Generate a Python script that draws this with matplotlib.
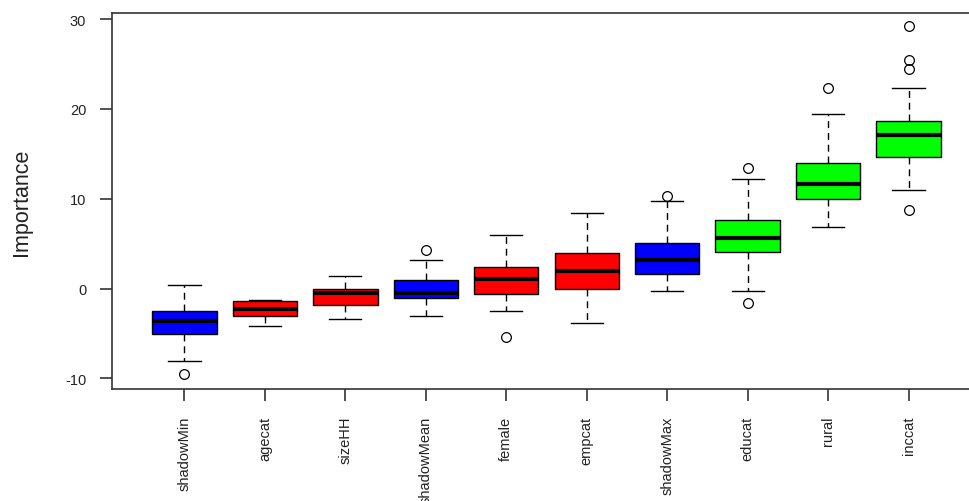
import matplotlib
matplotlib.use("Agg")
import matplotlib.pyplot as plt

# Boruta style importance boxplot
names = ["shadowMin", "agecat", "sizeHH", "shadowMean", "female",
         "empcat", "shadowMax", "educat", "rural", "inccat"]
whis_lo = [-8.1, -4.14, -3.4, -3.06, -2.47, -3.84, -0.31, -0.31, 6.85, 11.0]
q1 = [-5.07, -3.06, -1.84, -1.09, -0.65, -0.02, 1.65, 4.1, 9.93, 14.68]
med = [-3.6, -2.28, -0.54, -0.5, 1.06, 1.95, 3.14, 5.66, 11.64, 17.13]
q3 = [-2.47, -1.36, -0.02, 0.91, 2.43, 3.95, 5.07, 7.66, 13.94, 18.62]
whis_hi = [0.42, -1.28, 1.39, 3.2, 5.96, 8.44, 9.78, 12.23, 19.43, 22.29]
outliers = [[-9.5], [], [], [4.32], [-5.37], [], [10.3],
            [13.45, -1.65], [22.33], [29.23, 25.45, 24.44, 8.71]]
decision = ["shadow", "rejected", "rejected", "shadow", "rejected",
            "rejected", "shadow", "confirmed", "confirmed", "confirmed"]
colours = {"shadow": "#0000ff", "rejected": "#ff0000", "confirmed": "#00ff00"}

plt.rcParams["font.family"] = ["Liberation Sans", "DejaVu Sans"]
plt.rcParams["axes.unicode_minus"] = False
axcol = "#333333"

fig = plt.figure(figsize=(9.7, 5.02), dpi=100)
ax = fig.add_axes([112 / 970, 1 - 390 / 502, (981 - 112) / 970, (390 - 14) / 502])

stats = []
for i in range(len(names)):
    stats.append({"med": med[i], "q1": q1[i], "q3": q3[i],
                  "whislo": whis_lo[i], "whishi": whis_hi[i],
                  "fliers": outliers[i], "label": names[i]})

pos = list(range(1, len(names) + 1))
bp = ax.bxp(stats, positions=pos, widths=0.8, capwidths=0.4,
            patch_artist=True, manage_ticks=False,
            boxprops=dict(edgecolor="black", linewidth=1.0),
            medianprops=dict(color="black", linewidth=3.0, solid_capstyle="butt"),
            whiskerprops=dict(color="black", linewidth=1.0, linestyle=(0, (5, 3.5))),
            capprops=dict(color="black", linewidth=1.0),
            flierprops=dict(marker="o", markersize=7, markerfacecolor="none",
                            markeredgecolor="black", markeredgewidth=0.9))
for b, d in zip(bp["boxes"], decision):
    b.set_facecolor(colours[d])

ax.set_xlim(0.1, 10.9)
ax.set_ylim(-11.19, 30.68)
ax.set_yticks([-10, 0, 10, 20, 30])
ax.set_xticks(pos)
ax.set_xticklabels(names, rotation=90, va="top")

for s in ax.spines.values():
    s.set_color(axcol)
    s.set_linewidth(1.2)
ax.tick_params(axis="both", length=8.6, width=1.2, color=axcol,
               labelsize=10.5, labelcolor="#222222")
ax.tick_params(axis="y", pad=10)
ax.tick_params(axis="x", pad=10.5)

fig.text(21.7 / 970, 1 - 202 / 502, "Importance", rotation=90,
         ha="center", va="center", fontsize=15.5, color="#222222")

fig.savefig("out.png", dpi=100)
